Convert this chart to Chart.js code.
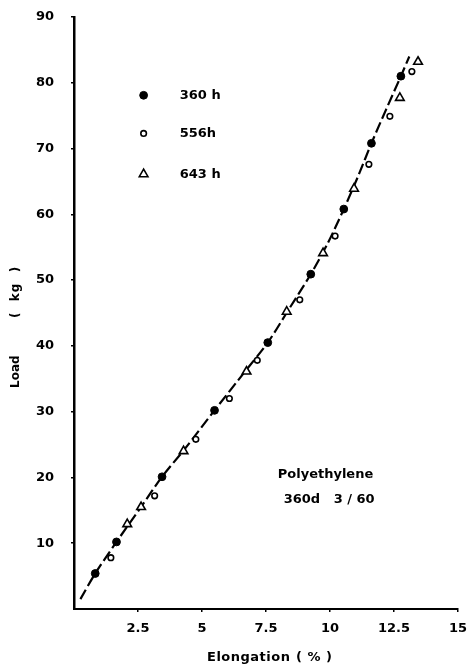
<!DOCTYPE html>
<html>
<head>
<meta charset="utf-8">
<script src="https://cdn.jsdelivr.net/npm/chart.js"></script>
<style>
  html, body { margin: 0; padding: 0; background: #fff; }
  canvas { display: block; }
</style>
</head>
<body>
<canvas id="loadChart" width="476" height="666"></canvas>
<script>
// values
var xTicks = [2.5, 5, 7.5, 10, 12.5, 15];
var yTicks = [10, 20, 30, 40, 50, 60, 70, 80, 90];

var h360X = [0.83, 1.66, 3.44, 5.49, 7.57, 9.25, 10.54, 11.62, 12.77];
var h360Y = [5.4, 10.2, 20.1, 30.2, 40.5, 50.9, 60.8, 70.8, 81.0];
var h556X = [1.44, 3.15, 4.76, 6.07, 7.16, 8.82, 10.2, 11.52, 12.34, 13.2];
var h556Y = [7.8, 17.2, 25.8, 32.0, 37.8, 47.0, 56.7, 67.6, 74.9, 81.7];
var h643X = [2.08, 2.62, 4.28, 6.74, 8.31, 9.73, 10.94, 12.73, 13.44];
var h643Y = [12.9, 15.5, 24.0, 36.1, 45.2, 54.1, 63.9, 77.7, 83.2];

// dashed curve drawn through the points
var fitX = [0.25, 0.83, 1.66, 2.6, 3.44, 4.3, 5.49, 6.7, 7.57, 8.35, 9.25, 9.9, 10.54, 11.1, 11.62, 12.2, 12.77, 13.1];
var fitY = [1.5, 5.4, 10.2, 15.4, 20.1, 24.2, 30.2, 36.2, 40.5, 45.3, 50.9, 55.5, 60.8, 65.8, 70.8, 76.0, 81.0, 84.0];

var seriesNames = ['360 h', '556h', '643 h'];

function pairs(xs, ys) {
    return xs.map(function (x, i) { return { x: x, y: ys[i] }; });
}

var FONT = 'DejaVu Sans';

var markerStyles = [
    { pointStyle: 'circle', radius: 3.9, borderWidth: 1, backgroundColor: '#000', borderColor: '#000' },
    { pointStyle: 'circle', radius: 2.8, borderWidth: 1.6, backgroundColor: '#fff', borderColor: '#000' },
    { pointStyle: 'triangle', radius: 5, borderWidth: 1.6, backgroundColor: '#fff', borderColor: '#000' }
];

var annotations = {
    id: 'annotations',
    afterDraw: function (chart) {
        var ctx = chart.ctx;
        var xs = chart.scales.x, ys = chart.scales.y;
        ctx.save();
        ctx.fillStyle = '#000';
        ctx.textBaseline = 'middle';
        ctx.textAlign = 'left';
        ctx.font = 'bold 13px ' + FONT;

        // legend inside the plot
        var legY = [78.1, 72.3, 66.1];
        seriesNames.forEach(function (name, i) {
            var m = markerStyles[i];
            var px = xs.getPixelForValue(2.72), py = ys.getPixelForValue(legY[i]);
            ctx.lineWidth = m.borderWidth;
            ctx.fillStyle = m.backgroundColor;
            ctx.strokeStyle = m.borderColor;
            Chart.helpers.drawPoint(ctx, { pointStyle: m.pointStyle, radius: m.radius, borderWidth: m.borderWidth }, px, py);
            ctx.fillStyle = '#000';
            ctx.fillText(name, xs.getPixelForValue(4.13), py);
        });

        // material note
        ctx.fillText('Polyethylene', xs.getPixelForValue(7.96), ys.getPixelForValue(20.4));
        ctx.fillText('360d   3 / 60', xs.getPixelForValue(8.19), ys.getPixelForValue(16.7));

        // x title
        ctx.font = 'bold 13px ' + FONT;
        ctx.letterSpacing = '0.5px';
        ctx.fillText('Elongation', 207, 658);
        ctx.fillText('( % )', 296, 658);

        // y title
        ctx.font = 'bold 12px ' + FONT;
        ctx.letterSpacing = '0px';
        ctx.translate(16, 388);
        ctx.rotate(-Math.PI / 2);
        ctx.fillText('Load', 0, 0);
        ctx.letterSpacing = '1px';
        ctx.fillText('(  kg  )', 70, 0);
        ctx.restore();
    }
};

var ctx = document.getElementById('loadChart');
var loadChart = new Chart(ctx, {
    type: 'scatter',
    data: {
        datasets: [
            {
                label: seriesNames[0],
                data: pairs(h360X, h360Y),
                pointStyle: markerStyles[0].pointStyle,
                pointRadius: markerStyles[0].radius,
                pointBorderWidth: markerStyles[0].borderWidth,
                backgroundColor: markerStyles[0].backgroundColor,
                borderColor: markerStyles[0].borderColor
            },
            {
                label: seriesNames[1],
                data: pairs(h556X, h556Y),
                pointStyle: markerStyles[1].pointStyle,
                pointRadius: markerStyles[1].radius,
                pointBorderWidth: markerStyles[1].borderWidth,
                backgroundColor: markerStyles[1].backgroundColor,
                borderColor: markerStyles[1].borderColor
            },
            {
                label: seriesNames[2],
                data: pairs(h643X, h643Y),
                pointStyle: markerStyles[2].pointStyle,
                pointRadius: markerStyles[2].radius,
                pointBorderWidth: markerStyles[2].borderWidth,
                backgroundColor: markerStyles[2].backgroundColor,
                borderColor: markerStyles[2].borderColor
            },
            {
                type: 'line',
                label: 'fit',
                data: pairs(fitX, fitY),
                showLine: true,
                borderColor: '#000',
                borderWidth: 2.2,
                borderDash: [11, 4],
                pointRadius: 0,
                tension: 0.3,
                fill: false,
                order: 10
            }
        ]
    },
    options: {
        responsive: false,
        animation: false,
        layout: { padding: { top: 17, right: 10, left: 0, bottom: 0 } },
        plugins: {
            legend: { display: false },
            tooltip: { enabled: false }
        },
        scales: {
            x: {
                type: 'linear',
                min: 0,
                max: 15,
                afterBuildTicks: function (scale) {
                    scale.ticks = xTicks.map(function (v) { return { value: v }; });
                },
                afterFit: function (scale) { scale.height = 57; },
                border: { display: true, color: '#000', width: 2 },
                grid: { display: true, drawOnChartArea: false, drawTicks: true, tickLength: 3, color: '#000', lineWidth: 1.5 },
                ticks: {
                    color: '#000',
                    padding: 9,
                    maxRotation: 0,
                    font: { family: FONT, size: 13, weight: 'bold' },
                    callback: function (v) { return String(v); }
                }
            },
            y: {
                type: 'linear',
                min: 0,
                max: 90,
                afterBuildTicks: function (scale) {
                    scale.ticks = yTicks.map(function (v) { return { value: v }; });
                },
                afterFit: function (scale) {
                    scale.width = 74;
                    // the label gap should not push the plot top down
                    scale.paddingTop = 8;
                    scale.paddingBottom = 8;
                },
                border: { display: true, color: '#000', width: 2.5 },
                grid: { display: true, drawOnChartArea: false, drawTicks: true, tickLength: 3, color: '#000', lineWidth: 1.5 },
                ticks: {
                    color: '#000',
                    padding: 17,
                    font: { family: FONT, size: 13, weight: 'bold' },
                    callback: function (v) { return String(v); }
                }
            }
        }
    },
    plugins: [annotations]
});
</script>
</body>
</html>
